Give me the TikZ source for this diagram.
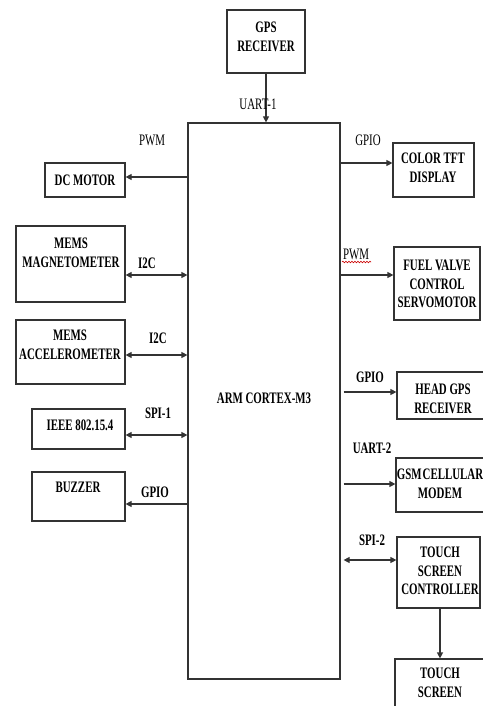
\documentclass[tikz,border=0pt]{standalone}
\usepackage{fontspec}
\setmainfont{Liberation Serif}[FakeStretch=0.68]
\usetikzlibrary{arrows.meta,decorations.pathmorphing}
\begin{document}
\begin{tikzpicture}[x=1pt,y=-1pt,
  box/.style={draw=black!80, line width=1.2pt, inner sep=0pt},
  txt/.style={font=\fontsize{16}{18.5}\selectfont\bfseries, align=center, inner sep=0pt, text=black},
  ltxt/.style={font=\fontsize{16}{18.5}\selectfont, align=center, inner sep=0pt, text=black},
  conn/.style={draw=black!80, line width=1.2pt},
  tipend/.style={-{Triangle[length=6pt,width=6pt]}},
  tipboth/.style={{Triangle[length=6pt,width=6pt]}-{Triangle[length=6pt,width=6pt]}}]
\fill[white] (0,0) rectangle (482,706);
\useasboundingbox (0,0) rectangle (482,706);

% boxes
\node[box, minimum width=78pt, minimum height=63pt] (gps) at (266,41.5) {};
\node[box, minimum width=152pt, minimum height=556pt] (main) at (264,401) {};
\node[box, minimum width=80pt, minimum height=34pt] (dc) at (85,180) {};
\node[box, minimum width=81pt, minimum height=54pt] (tft) at (433.5,170) {};
\node[box, minimum width=109pt, minimum height=76pt] (mag) at (70.5,264) {};
\node[box, minimum width=109pt, minimum height=64pt] (acc) at (70.5,352) {};
\node[box, minimum width=93pt, minimum height=40pt] (ieee) at (78.5,429) {};
\node[box, minimum width=93pt, minimum height=49pt] (buz) at (78.5,496.5) {};
\node[box, minimum width=86pt, minimum height=73pt] (fuel) at (437,283.5) {};
\node[box, minimum width=89pt, minimum height=47pt] (head) at (441.5,395.5) {};
\node[box, minimum width=92pt, minimum height=54pt] (gsm) at (442,485) {};
\node[box, minimum width=83pt, minimum height=71pt] (tsc) at (438.5,572.5) {};
\node[box, minimum width=92pt, minimum height=57pt] (ts) at (441,687.5) {};

% box texts
\node[txt] (tgps) at (266,37) {GPS\\RECEIVER};
\node[txt] (tmain) at (264,398) {ARM CORTEX-M3};
\node[txt] (tdc) at (85,180) {DC MOTOR};
\node[txt] (ttft) at (433,168) {COLOR TFT\\DISPLAY};
\node[txt] (tmag) at (71,253) {MEMS\\MAGNETOMETER};
\node[txt] (tacc) at (70,345) {MEMS\\ACCELEROMETER};
\node[txt] (tieee) at (80,425) {IEEE 802.15.4};
\node[txt] (tbuz) at (78,487) {BUZZER};
\node[txt] (tfuel) at (437,284) {FUEL VALVE\\CONTROL\\SERVOMOTOR};
\node[txt] (thead) at (443,399) {HEAD GPS\\RECEIVER};
\node[txt] (tgsm) at (440,484) {GSM\hspace{1pt}CELLULAR\\MODEM};
\node[txt] (ttsc) at (440,571) {TOUCH\\SCREEN\\CONTROLLER};
\node[txt] (tts) at (440,683) {TOUCH\\SCREEN};

% connectors
\draw[conn,tipend] (gps.south) -- (gps.south |- main.north);
\draw[conn,tipend] (main.west |- 0,177) -- (dc.east |- 0,177);
\draw[conn,tipend] (main.east |- 0,163) -- (tft.west |- 0,163);
\draw[conn,tipboth] (mag.east |- 0,275) -- (main.west |- 0,275);
\draw[conn,tipboth] (acc.east |- 0,355) -- (main.west |- 0,355);
\draw[conn,tipboth] (ieee.east |- 0,435) -- (main.west |- 0,435);
\draw[conn,tipend] (main.west |- 0,504) -- (buz.east |- 0,504);
\draw[conn,tipend] (main.east |- 0,275) -- (fuel.west |- 0,275);
\draw[conn,tipend] ([xshift=3pt]main.east |- 0,392) -- (head.west |- 0,392);
\draw[conn,tipend] ([xshift=3pt]main.east |- 0,484) -- (gsm.west |- 0,484);
\draw[conn,tipboth] ([xshift=3pt]main.east |- 0,560) -- (tsc.west |- 0,560);
\draw[conn,tipend] (tsc.south -| 440,0) -- (ts.north -| 440,0);

% connector labels
\node[ltxt] (luart1) at (258,104) {UART-1};
\node[ltxt] (lpwm1) at (152,140) {PWM};
\node[ltxt] (lgpio1) at (368,140) {GPIO};
\node[txt] (li2c1) at (147,263) {I2C};
\node[txt] (li2c2) at (158,338) {I2C};
\node[txt] (lspi1) at (158,413) {SPI-1};
\node[txt] (lgpio2) at (155,492) {GPIO};
\node[ltxt] (lpwm2) at (356,254) {PWM};
\draw[red!80!black, line width=0.6pt, decorate, decoration={snake, amplitude=0.8pt, segment length=3pt}] (342,262) -- (371,262);
\node[txt] (lgpio3) at (370,377) {GPIO};
\node[txt] (luart2) at (372,448) {UART-2};
\node[txt] (lspi2) at (372,540) {SPI-2};
\end{tikzpicture}
\end{document}
